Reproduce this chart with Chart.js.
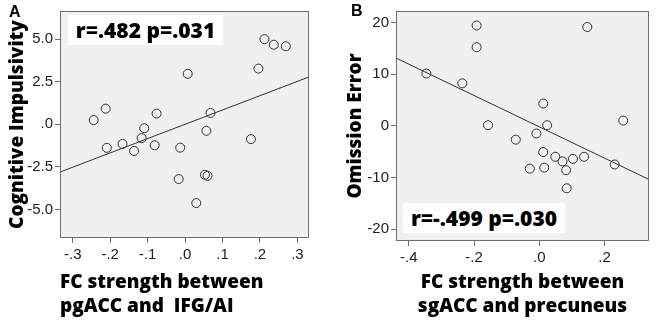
<!DOCTYPE html>
<html>
<head>
<meta charset="utf-8">
<script src="https://cdn.jsdelivr.net/npm/chart.js@4.4.1/dist/chart.umd.min.js"></script>
<style>
  html, body { margin: 0; padding: 0; background: #fff; }
  #wrap { position: relative; width: 656px; height: 326px; overflow: hidden; }
  #wrap canvas { position: absolute; top: 0; }
  #chart-a { left: 0; }
  #chart-b { left: 330px; }
  .panel-tag { position: absolute; font: bold 16px "Liberation Sans", Arial, sans-serif; color: #000; line-height: 1; }
  .stat-box {
    position: absolute; background: #fff; color: #000;
    font: 800 21px "Open Sans", sans-serif; line-height: 30px; height: 30px;
    text-align: center; white-space: pre;
  }
</style>
</head>
<body>
<div id="wrap">
  <canvas id="chart-a" width="330" height="326"></canvas>
  <canvas id="chart-b" width="326" height="326"></canvas>
  <div class="panel-tag" style="left:9px;top:4px;">A</div>
  <div class="panel-tag" style="left:351px;top:3px;">B</div>
  <div class="stat-box" style="left:68px;top:15px;width:155px;">r=.482 p=.031</div>
  <div class="stat-box" style="left:403px;top:203px;width:162px;">r=-.499 p=.030</div>
</div>
<script>
/* ---- panel A: pgACC–IFG/AI connectivity vs cognitive impulsivity ---- */
var fcA  = [-0.244, -0.212, -0.209, -0.167, -0.136, -0.116, -0.109, -0.081, -0.076, -0.013, -0.017,
             0.007,  0.030,  0.053,  0.060,  0.057,  0.068,  0.176,  0.196,  0.212,  0.237,  0.269];
var impA = [ 0.25,   0.92,  -1.38,  -1.15,  -1.56,  -0.81,  -0.23,  -1.23,   0.63,  -1.37,  -3.21,
             2.96,  -4.62,  -2.96,  -3.02,  -0.38,   0.67,  -0.87,   3.27,   5.00,   4.67,   4.58];
var fitAx = [-0.334, 0.331];
var fitAy = [-2.80, 2.78];
var xTicksA = [-0.3, -0.2, -0.1, 0, 0.1, 0.2, 0.3];
var xLabelsA = ['-.3', '-.2', '-.1', '.0', '.1', '.2', '.3'];
var yTicksA = [-5, -2.5, 0, 2.5, 5];
var yLabelsA = ['-5.0', '-2.5', '.0', '2.5', '5.0'];

/* ---- panel B: sgACC–precuneus connectivity vs omission error ---- */
var fcB  = [-0.346, -0.236, -0.192, -0.192, -0.157, -0.072, -0.029, -0.009, 0.012, 0.024, 0.012,
             0.015,  0.049,  0.071,  0.082,  0.084,  0.103,  0.137,  0.147, 0.231, 0.257];
var omB  = [10.1,    8.2,   19.4,   15.2,    0.1,   -2.7,   -8.3,   -1.5,   4.3,   0.1,  -5.1,
            -8.1,   -6.0,   -6.9,   -8.6,  -12.1,   -6.4,   -6.0,   19.1,  -7.5,   1.0];
var fitBx = [-0.439, 0.336];
var fitBy = [13.1, -10.4];
var xTicksB = [-0.4, -0.2, 0, 0.2];
var xLabelsB = ['-.4', '-.2', '.0', '.2'];
var yTicksB = [-20, -10, 0, 10, 20];
var yLabelsB = ['-20', '-10', '0', '10', '20'];

(function () {
  'use strict';

  var PLOT_BG = '#f0f0f0';
  var FRAME = '#6e6e6e';
  var INK = '#222';
  var TITLE_FONT = { family: '"Open Sans", sans-serif', size: 19, weight: '800', lineHeight: 1.25 };
  var TICK_FONT = { family: '"Liberation Sans", Arial, sans-serif', size: 15 };

  Chart.defaults.color = INK;

  // grey plot area + box frame, like the SPSS output
  var plotFrame = {
    id: 'plotFrame',
    beforeDatasetsDraw: function (chart) {
      var a = chart.chartArea, ctx = chart.ctx;
      ctx.save();
      ctx.fillStyle = PLOT_BG;
      ctx.fillRect(a.left, a.top, a.right - a.left, a.bottom - a.top);
      ctx.restore();
    },
    afterDatasetsDraw: function (chart) {
      var a = chart.chartArea, ctx = chart.ctx;
      ctx.save();
      ctx.strokeStyle = FRAME;
      ctx.lineWidth = 1;
      ctx.strokeRect(Math.round(a.left) + 0.5, Math.round(a.top) + 0.5,
        Math.round(a.right - a.left) - 1, Math.round(a.bottom - a.top) - 1);
      ctx.restore();
    }
  };

  function toPoints(xs, ys) {
    return xs.map(function (x, i) { return { x: x, y: ys[i] }; });
  }

  function fixedTicks(values) {
    return function (scale) {
      scale.ticks = values.map(function (v) { return { value: v }; });
    };
  }

  function labelFor(values, labels) {
    return function (value) {
      var i = values.indexOf(value);
      return i < 0 ? '' : labels[i];
    };
  }

  function axis(opts) {
    return {
      type: 'linear',
      position: opts.position,
      min: opts.min,
      max: opts.max,
      afterBuildTicks: fixedTicks(opts.ticks),
      afterFit: function (scale) {
        if (opts.position === 'left') scale.width = opts.size;
        else scale.height = opts.size;
      },
      border: { display: false },
      grid: { drawOnChartArea: false, drawTicks: true, tickLength: 5, color: FRAME },
      ticks: {
        autoSkip: false, maxRotation: 0, padding: opts.tickPad,
        font: TICK_FONT, color: INK,
        callback: labelFor(opts.ticks, opts.labels)
      },
      title: {
        display: true, text: opts.title, align: opts.align || 'center',
        font: TITLE_FONT, color: '#000', padding: opts.titlePad
      }
    };
  }

  function makeChart(id, cfg) {
    return new Chart(document.getElementById(id), {
      type: 'scatter',
      data: {
        datasets: [
          {
            data: toPoints(cfg.xs, cfg.ys),
            pointRadius: 4.5, pointHoverRadius: 4.5,
            pointBorderWidth: 1, borderColor: '#333', backgroundColor: 'rgba(0,0,0,0)'
          },
          {
            type: 'line',
            data: toPoints(cfg.fitX, cfg.fitY),
            showLine: true, pointRadius: 0,
            borderColor: '#333', borderWidth: 1, fill: false
          }
        ]
      },
      options: {
        responsive: false,
        animation: false,
        events: [],
        layout: { padding: cfg.padding },
        plugins: { legend: { display: false }, tooltip: { enabled: false } },
        scales: { x: axis(cfg.x), y: axis(cfg.y) }
      },
      plugins: [plotFrame]
    });
  }

  makeChart('chart-a', {
    xs: fcA, ys: impA, fitX: fitAx, fitY: fitAy,
    padding: { top: 8, right: 21, left: 0, bottom: 0 },
    x: {
      position: 'bottom', min: -0.334, max: 0.331, ticks: xTicksA, labels: xLabelsA,
      size: 88, tickPad: 3, align: 'start',
      title: ['FC strength between', 'pgACC and  IFG/AI'], titlePad: { top: 0, bottom: 8 }
    },
    y: {
      position: 'left', min: -6.67, max: 6.65, ticks: yTicksA, labels: yLabelsA,
      size: 60, tickPad: 2,
      title: 'Cognitive Impulsivity', titlePad: { top: 6, bottom: 0 }
    }
  });

  makeChart('chart-b', {
    xs: fcB, ys: omB, fitX: fitBx, fitY: fitBy,
    padding: { top: 10, right: 7, left: 0, bottom: 0 },
    x: {
      position: 'bottom', min: -0.439, max: 0.336, ticks: xTicksB, labels: xLabelsB,
      size: 85, tickPad: 3,
      title: ['FC strength between', 'sgACC and precuneus'], titlePad: { top: 0, bottom: 8 }
    },
    y: {
      position: 'left', min: -22.3, max: 22.2, ticks: yTicksB, labels: yLabelsB,
      size: 66, tickPad: 2,
      title: 'Omission Error', titlePad: { top: 14, bottom: 0 }
    }
  });
}());
</script>
</body>
</html>
